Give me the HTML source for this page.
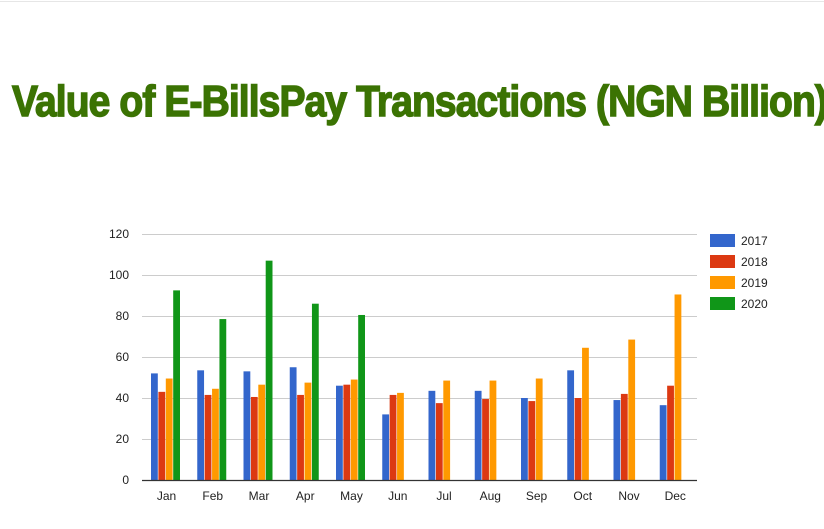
<!DOCTYPE html>
<html><head><style>
body{margin:0;background:#fff;width:824px;height:524px;overflow:hidden;font-family:"Liberation Sans",Arial,sans-serif}
</style></head><body>
<svg width="824" height="524" xmlns="http://www.w3.org/2000/svg" font-family="Liberation Sans, Arial, sans-serif">
<line x1="0" y1="1.5" x2="824" y2="1.5" stroke="#e6e6e6"/>
<text x="12" y="116" font-size="44" font-weight="bold" fill="#3b7303" stroke="#3b7303" stroke-width="1.5" textLength="815" lengthAdjust="spacingAndGlyphs" letter-spacing="-1">Value of E-BillsPay Transactions (NGN Billion)</text>
<g stroke="#cccccc" stroke-width="1">
<line x1="142" x2="697" y1="234.5" y2="234.5"/>
<line x1="142" x2="697" y1="275.5" y2="275.5"/>
<line x1="142" x2="697" y1="316.5" y2="316.5"/>
<line x1="142" x2="697" y1="357.5" y2="357.5"/>
<line x1="142" x2="697" y1="398.5" y2="398.5"/>
<line x1="142" x2="697" y1="439.5" y2="439.5"/>
</g>
<g font-size="12" fill="#222" text-anchor="end">
<text x="129" y="238">120</text><text x="129" y="279">100</text><text x="129" y="320">80</text>
<text x="129" y="361">60</text><text x="129" y="402">40</text><text x="129" y="443">20</text><text x="129" y="484">0</text>
</g>
<g id="bars"></g>
<line x1="142" x2="697" y1="480.5" y2="480.5" stroke="#333" stroke-width="1.2"/>
<g font-size="12" fill="#222" text-anchor="middle" id="xl"></g>
<g font-size="12" fill="#222">
<rect x="710" y="234" width="25" height="13" fill="#3366cc"/><text x="741" y="245">2017</text>
<rect x="710" y="255" width="25" height="13" fill="#dc3912"/><text x="741" y="266">2018</text>
<rect x="710" y="276" width="25" height="13" fill="#ff9900"/><text x="741" y="287">2019</text>
<rect x="710" y="297" width="25" height="13" fill="#109618"/><text x="741" y="308">2020</text>
</g>
</svg>
<script>
var d=[[52,43,49.5,92.5],[53.5,41.5,44.5,78.5],[53,40.5,46.5,107],[55,41.5,47.5,86],[46,46.5,49,80.5],[32,41.5,42.5],[43.5,37.5,48.5],[43.5,39.5,48.5],[40,38.5,49.5],[53.5,40,64.5],[39,42,68.5],[36.5,46,90.5]];
var m=["Jan","Feb","Mar","Apr","May","Jun","Jul","Aug","Sep","Oct","Nov","Dec"];
var c=["#3366cc","#dc3912","#ff9900","#109618"];
var ns="http://www.w3.org/2000/svg",g=document.getElementById("bars"),xl=document.getElementById("xl");
d.forEach(function(v,i){var x0=151+i*46.25;v.forEach(function(val,j){var r=document.createElementNS(ns,"rect");var h=val*41/20;
r.setAttribute("x",x0+j*7.4);r.setAttribute("width",6.8);r.setAttribute("y",480-h);r.setAttribute("height",h);r.setAttribute("fill",c[j]);g.appendChild(r);});
var t=document.createElementNS(ns,"text");t.setAttribute("x",x0+15.5);t.setAttribute("y",500);t.textContent=m[i];xl.appendChild(t);});
</script>
</body></html>
